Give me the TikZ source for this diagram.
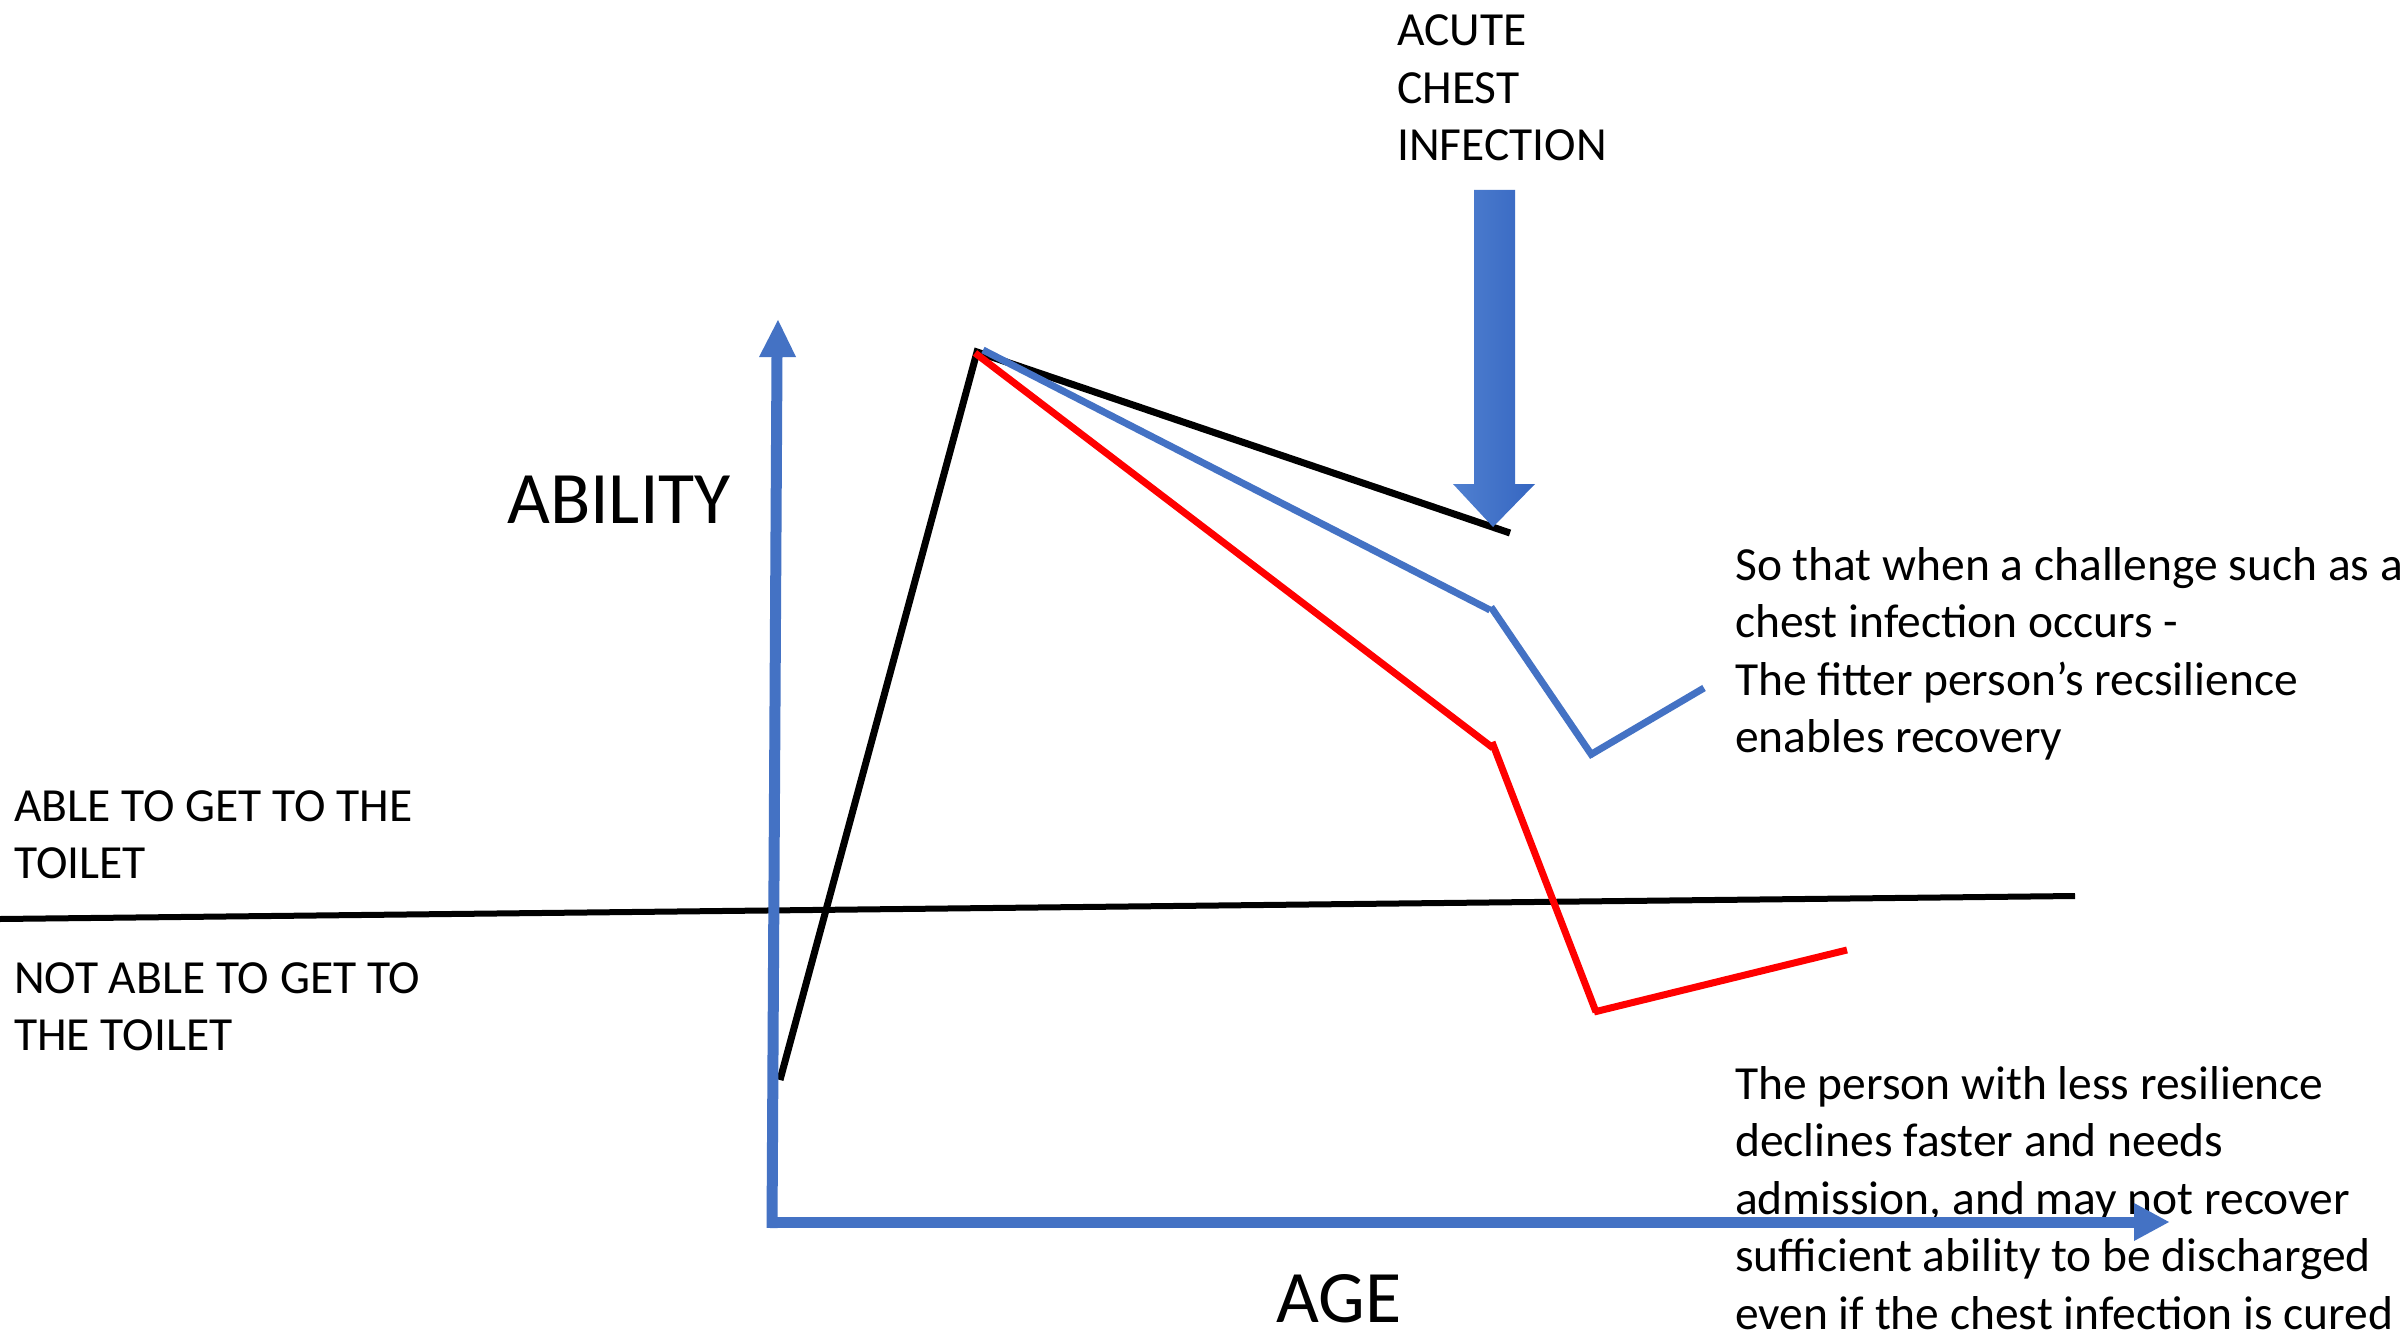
\documentclass[tikz,border=0pt]{standalone}
\usepackage{fontspec}
\setmainfont{Carlito}
\definecolor{axisblue}{HTML}{4472C4}
\definecolor{arrowL}{HTML}{5080D0}
\definecolor{arrowR}{HTML}{3566C1}
\definecolor{redline}{HTML}{FF0000}
\begin{document}
\begin{tikzpicture}[x=1pt,y=-1pt,
  txt/.style={anchor=base west,inner sep=0pt,align=left,font=\fontsize{47.5}{57.5}\selectfont},
  bigtxt/.style={anchor=base west,inner sep=0pt,font=\fontsize{74}{88}\selectfont},
  axisline/.style={draw=axisblue,line width=11pt},
  axishead/.style={fill=axisblue},
  curve/.style={line width=7pt},
  threshold/.style={draw=black,line width=6pt},
]
\useasboundingbox (0,0) rectangle (2407,1340);
\fill[white] (0,0) rectangle (2407,1340);

% texts (base anchor = baseline of the last line)
\node[txt] (acute) at (1397,161) {ACUTE\\CHEST\\INFECTION};
\node[bigtxt] (ability) at (507,523) {ABILITY};
\node[bigtxt] (age) at (1276,1322) {AGE};
\node[txt] (able) at (14,878.5) {ABLE TO GET TO THE\\TOILET};
\node[txt] (notable) at (14,1050.5) {NOT ABLE TO GET TO\\THE TOILET};
\node[txt] (fit) at (1735,752.5) {So that when a challenge such as a\\chest infection occurs -\\The fitter person’s recsilience\\enables recovery};
\node[txt] (less) at (1735,1329) {The person with less resilience\\declines faster and needs\\admission, and may not recover\\sufficient ability to be discharged\\even if the chest infection is cured};

% threshold line
\coordinate (t0) at (0,919);
\coordinate (t1) at (2075,896);
\draw[threshold] (t0) -- (t1);

% curves
\coordinate (b0) at (780,1080);
\coordinate (pk) at (977,352);
\coordinate (b2) at (1510,533);
\coordinate (u0) at (983,350);
\coordinate (u1) at (1490,610);
\coordinate (u1b) at (1491,607);
\coordinate (u2) at (1593,757);
\coordinate (u2b) at (1590,755);
\coordinate (u3) at (1704,688);
\coordinate (r0) at (975,353);
\coordinate (r1) at (1493,748);
\coordinate (r1b) at (1492,742);
\coordinate (r2) at (1596,1012);
\coordinate (r2b) at (1594,1012);
\coordinate (r3) at (1847,950);

\draw[curve,black] (b0) -- (pk) -- (b2);
\draw[curve,axisblue] (u0) -- (u1);
\draw[curve,axisblue] (u1b) -- (u2);
\draw[curve,axisblue] (u2b) -- (u3);
\draw[curve,redline] (r0) -- (r1);
\draw[curve,redline] (r1b) -- (r2);
\draw[curve,redline] (r2b) -- (r3);

% big infection arrow
\shade[left color=arrowL,right color=arrowR]
  (1474,190) -- (1515,190) -- (1515,484) -- (1535,484) -- (1493,527)
  -- (1453,484) -- (1474,484) -- cycle;

% axes
\coordinate (yb) at (772,1228);
\coordinate (yt) at (777,356);
\coordinate (ytip) at (778,320);
\draw[axisline] (yb) -- (yt);
\fill[axishead] (759,357) -- (ytip) -- (796,357) -- cycle;
\coordinate (xo) at (767,1222);
\coordinate (xe) at (2135,1222);
\coordinate (xtip) at (2169,1222);
\draw[axisline] (xo) -- (xe);
\fill[axishead] (2134,1203) -- (xtip) -- (2134,1241) -- cycle;
\end{tikzpicture}
\end{document}
